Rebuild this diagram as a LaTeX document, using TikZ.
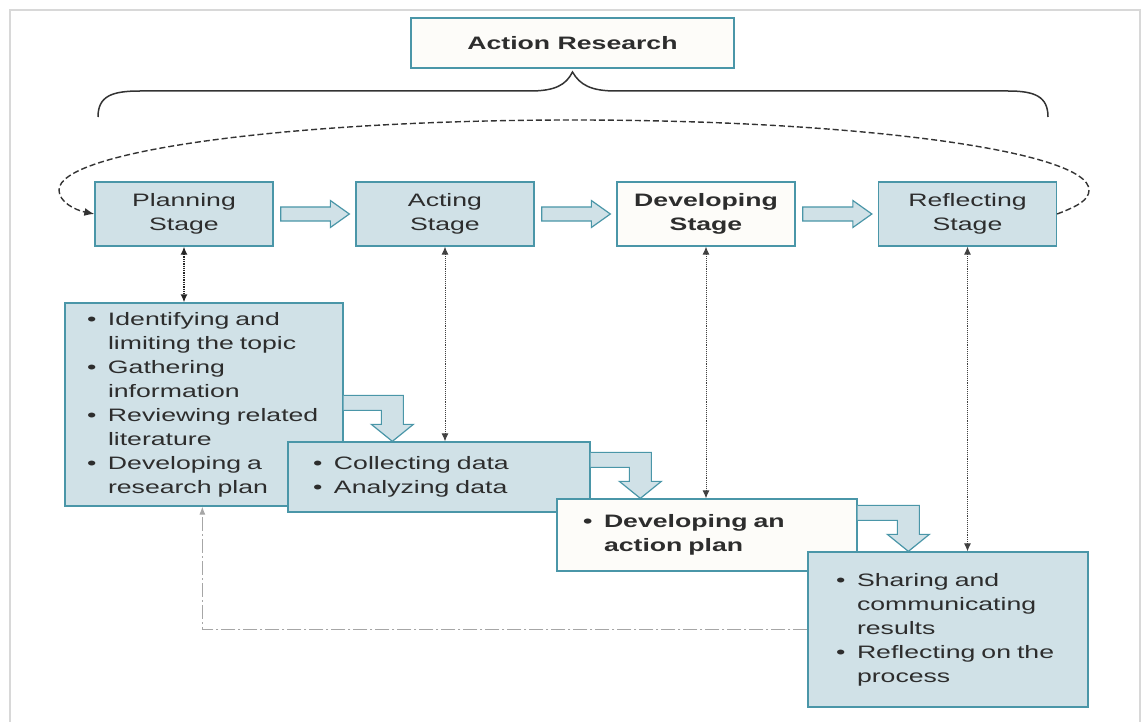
\documentclass[tikz,border=0pt]{standalone}
\usepackage{fontspec}
\setmainfont{Liberation Sans}[FakeStretch=1.48]
\usetikzlibrary{calc,arrows.meta}
\definecolor{boxfill}{RGB}{208,225,231}
\definecolor{teal}{RGB}{74,150,168}
\definecolor{txt}{RGB}{45,45,45}
\definecolor{offwhite}{RGB}{253,252,249}
\definecolor{framegray}{RGB}{216,216,216}
\newcommand\bul[1]{\makebox[21pt][l]{•}#1}
\newcommand\cont[1]{\hspace*{21pt}#1}
\begin{document}
\begin{tikzpicture}[x=1pt,y=-1pt,
  every node/.style={font=\fontsize{18}{24}\selectfont, text=txt},
  stagebox/.style={draw=teal, line width=1.3pt, fill=boxfill, minimum width=178pt, minimum height=64pt, align=center, inner sep=0pt},
  listbox/.style={draw=teal, line width=1.3pt, fill=boxfill, align=left, inner ysep=0pt},
  barrow/.style={draw=teal, fill=boxfill, line width=1.2pt, line join=miter},
  vlink/.style={densely dotted, draw=black!75, line width=0.9pt, {Latex[length=8pt,width=7pt]}-{Latex[length=8pt,width=7pt]}},
  retlink/.style={draw=black!35, line width=0.9pt, dash pattern=on 14pt off 3pt on 2pt off 3pt, -{Latex[length=8pt,width=6pt]}},
  looplink/.style={draw=black!80, line width=1.4pt, dash pattern=on 6pt off 3pt, -{Latex[length=10pt,width=8pt]}}
]
\useasboundingbox (0,0) rectangle (1148,722);
% outer frame
\draw[framegray, line width=1.5pt] (10,730) -- (10,10) -- (1140,10) -- (1140,730);

% title
\node[draw=teal, line width=1.3pt, fill=offwhite, minimum width=323pt, minimum height=50pt, inner sep=0pt, font=\fontsize{18}{24}\selectfont\bfseries] (title) at (572.5,43) {Action Research};

% brace
\draw[black!80, line width=1.5pt] (98,117) .. controls (98,96) and (112,91) .. (140,91) -- (530,91) .. controls (555,91) and (566,85) .. (title.south |- 0,72) .. controls (580,85) and (591,91) .. (616,91) -- (1008,91) .. controls (1034,91) and (1048,96) .. (1048,117);

% stage boxes
\node[stagebox] (plan) at (184,214) {Planning\\Stage};
\node[stagebox] (act) at (445,214) {Acting\\Stage};
\node[stagebox, fill=offwhite, font=\fontsize{18}{24}\selectfont\bfseries] (dev) at (706,214) {Developing\\Stage};
\node[stagebox] (refl) at (967.5,214) {Reflecting\\Stage};

% loop dashed arc
\draw[looplink] (refl.east) .. controls (1078,206) and (1089,200) .. (1089,190)
  .. controls (1089,151) and (858,120) .. (574,120)
  .. controls (290,120) and (59,151) .. (59,190)
  .. controls (59,202) and (75,210) .. (plan.west);

% horizontal block arrows
\newcommand\harrow[2]{%
\draw[barrow] let \p1=($(#1.east)+(7,0)$), \p2=($(#2.west)+(-6,0)$) in
  (\x1,\y1+7pt) -- (\x2-19pt,\y1+7pt) -- (\x2-19pt,\y1+13.5pt) -- (\x2,\y1) -- (\x2-19pt,\y1-13.5pt) -- (\x2-19pt,\y1-7pt) -- (\x1,\y1-7pt) -- cycle;}
\harrow{plan}{act}
\harrow{act}{dev}
\harrow{dev}{refl}

% list boxes
\node[listbox, minimum width=278pt, minimum height=203pt, text width=234pt, inner xsep=22pt] (b1) at (204,404.5) {%
\bul{Identifying and}\\ \cont{limiting the topic}\\ \bul{Gathering}\\ \cont{information}\\ \bul{Reviewing related}\\ \cont{literature}\\ \bul{Developing a}\\ \cont{research plan}};

% bent arrows
\newcommand\bentarrow[3]{%
\draw[barrow] let \p1=(#1.east), \p2=(#2.north west) in
  (\x1,\y2+46pt) -- (\x2+#3+11pt,\y2+46pt) -- (\x2+#3+11pt,\y2+17pt) -- (\x2+#3+21pt,\y2+17pt) -- (\x2+#3,\y2) -- (\x2+#3-21pt,\y2+17pt) -- (\x2+#3-11pt,\y2+17pt) -- (\x2+#3-11pt,\y2+31pt) -- (\x1,\y2+31pt);}

\node[listbox, minimum width=302pt, minimum height=70pt, text width=252pt, inner xsep=25pt] (b2) at (439,477) {%
\bul{Collecting data}\\ \bul{Analyzing data}};
\bentarrow{b1}{b2}{105pt}

\node[listbox, fill=offwhite, minimum width=300pt, minimum height=72pt, text width=248pt, inner xsep=26pt, font=\fontsize{18}{24}\selectfont\bfseries] (b3) at (707,535) {%
\bul{Developing an}\\ \cont{action plan}};
\bentarrow{b2}{b3}{84pt}

\node[listbox, minimum width=280pt, minimum height=155pt, text width=224pt, inner xsep=28pt] (b4) at (948,629.5) {%
\bul{Sharing and}\\ \cont{communicating}\\ \cont{results}\\ \bul{Reflecting on the}\\ \cont{process}};
\bentarrow{b3}{b4}{101pt}

% vertical dotted links
\draw[vlink, line width=1.3pt, black!85] (plan.south) -- (plan.south |- b1.north);
\draw[vlink] (act.south) -- (act.south |- b2.north);
\draw[vlink] (dev.south) -- (dev.south |- b3.north);
\draw[vlink] (refl.south) -- (refl.south |- b4.north);

% return link
\draw[retlink] (b4.west) -| ($(b1.south west)+(138,0)$);
\end{tikzpicture}
\end{document}
